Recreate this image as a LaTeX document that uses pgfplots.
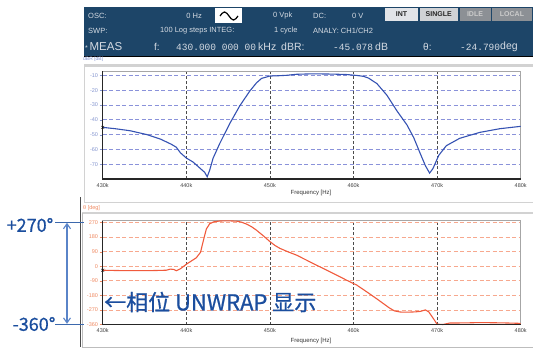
\documentclass[border=0pt]{standalone}
\usepackage{pgfplots}
\pgfplotsset{compat=1.18}
\usepackage{fontspec}
\setmainfont{Liberation Sans}
\newfontfamily\cjk[FakeBold=0.7]{Noto Sans CJK SC}
\newfontfamily\mono{Liberation Mono}
\usetikzlibrary{arrows.meta}
\definecolor{band}{HTML}{1D4568}
\definecolor{hdrtxt}{HTML}{D5DBE3}
\definecolor{bluecurve}{HTML}{3552B2}
\definecolor{redcurve}{HTML}{F05A3C}
\definecolor{bluegrid}{HTML}{8A92DA}
\definecolor{redgrid}{HTML}{F7A88E}
\definecolor{bluetick}{HTML}{8495CF}
\definecolor{redtick}{HTML}{EF8A62}
\definecolor{annot}{HTML}{1B4E9E}
\definecolor{annotline}{HTML}{5A84C8}
\definecolor{frame}{HTML}{D2D2D2}
\definecolor{btnlight}{HTML}{E2E4E8}
\definecolor{btndark}{HTML}{8C9095}

\pgfplotstableread{
f db
430 -45.1
431.5 -46.0
433.3 -47.4
435.3 -50.0
436.9 -53.0
438.2 -56.5
438.8 -58.5
439.3 -62.3
440.0 -65.8
440.8 -68.5
441.6 -72.5
442.2 -75.5
442.5 -78.5
442.8 -74
443.2 -66
444.0 -56
445.2 -42.5
446.4 -30.5
447.6 -20.5
448.4 -15
449.0 -12
450.0 -10.4
451.0 -10.2
452.0 -9.9
453.2 -9.2
455.2 -8.9
457.6 -9.1
459.2 -9.4
460.4 -10
461.2 -10.6
461.8 -11.8
462.8 -15.5
464.0 -23.4
465.2 -34
466.4 -43.5
467.2 -52
468.0 -63
468.6 -71
469.1 -76
469.5 -73
470.2 -64
471.1 -57.5
472.7 -52.5
475.1 -48.5
477.5 -46
480 -44.4
}\magtable

\pgfplotstableread{
f deg
430 -25
432 -27
434 -27
436 -27
437.6 -25
438.1 -18
438.5 -20
438.8 -28
439.3 -16
440.0 12
440.6 32
441.2 52
441.7 86
442.1 170
442.4 230
442.8 262
443.3 274
444 279
445 280
446 278
446.6 272
447.2 260
447.8 244
448.4 222
449.2 188
450 152
450.6 128
451.2 110
452.2 88
453.2 68
455.2 16
457.2 -35
459.2 -87
460.4 -117
461.6 -159
462.8 -202
463.6 -232
464.3 -258
464.9 -276
465.6 -283
466.4 -284
467.4 -282
468.0 -279
468.6 -270
469.0 -282
469.55 -323
470.0 -358
470.7 -360
471.5 -351
473.5 -350
475.1 -348
477.9 -350
480 -353
}\phasetable

\pgfplotsset{panel/.style={
  scale only axis, width=418pt, xmin=430, xmax=480,
  xtick={430,440,450,460,470,480},
  xticklabels={430k,440k,450k,460k,470k,480k},
  xtick pos=bottom, ytick pos=left,
  xtick style={draw=none},
  major tick length=3pt, tick align=outside,
  grid=major,
  x grid style={dash pattern=on 3pt off 2pt, color=black!70, line width=0.7pt},
  axis line style={draw=black!35, line width=0.8pt},
  xticklabel style={font=\fontsize{5.5}{6}\selectfont, color=black!75, inner sep=1pt},
  yticklabel style={font=\fontsize{5.5}{6}\selectfont, inner sep=1.5pt},
  /pgf/number format/assume math mode=true,
  clip=false,
}}

\newcommand\hdr[1]{{\fontsize{7.5}{8}\selectfont\color{hdrtxt}#1}}

\begin{document}
\begin{tikzpicture}[x=1pt,y=1pt]
\useasboundingbox (0,0) rectangle (559,357);
% ---------- header band ----------
\fill[band] (84,301) rectangle (533,350);
\draw[black, line width=1.5pt] (84,300.5) -- (533,300.5);
% row 1
\node[anchor=west, inner sep=0] at (88,341) {\hdr{OSC:}};
\node[anchor=east, inner sep=0] at (202,341) {\hdr{0 Hz}};
\fill[white] (215,334) rectangle (242,349);
\draw[black, line width=1.2pt] (220,341) sin (224.5,345) cos (229,341) sin (233.5,337) cos (238,341);
\node[anchor=west, inner sep=0] at (273,341) {\hdr{0 Vpk}};
\node[anchor=west, inner sep=0] at (313,341) {\hdr{DC:}};
\node[anchor=west, inner sep=0] at (352,341) {\hdr{0 V}};
\fill[btnlight] (385,336) rectangle (418,349);
\fill[btnlight!92!black] (419.5,336) rectangle (458,349);
\fill[btndark] (459.5,336) rectangle (490.5,349);
\fill[btndark] (492,336) rectangle (532,349);
\node[inner sep=0] at (401.5,342.5) {\fontsize{7}{8}\selectfont\bfseries\color{black!85}INT};
\node[inner sep=0] at (438.7,342.5) {\fontsize{7}{8}\selectfont\bfseries\color{black!85}SINGLE};
\node[inner sep=0] at (475,342.5) {\fontsize{7}{8}\selectfont\bfseries\color{black!20}IDLE};
\node[inner sep=0] at (512,342.5) {\fontsize{7}{8}\selectfont\bfseries\color{black!20}LOCAL};
% row 2
\node[anchor=west, inner sep=0] at (88,326) {\hdr{SWP:}};
\node[anchor=west, inner sep=0] at (160,326) {\hdr{100 Log steps INTEG:}};
\node[anchor=west, inner sep=0] at (274,326) {\hdr{1 cycle}};
\node[anchor=west, inner sep=0] at (313,326) {\hdr{ANALY: CH1/CH2}};
% row 3
\node[anchor=west, inner sep=0] at (85,310) {\color{hdrtxt}{\fontsize{7}{8}\selectfont *}\,{\fontsize{11.5}{12}\selectfont MEAS}};
\node[anchor=west, inner sep=0] at (154,310) {\color{hdrtxt}\fontsize{10}{12}\selectfont f:};
\node[anchor=west, inner sep=0] at (176,310) {\color{hdrtxt}\mono\fontsize{9.5}{12}\selectfont 430.000 000 00};
\node[anchor=west, inner sep=0] at (258,310) {\color{hdrtxt}\fontsize{10.5}{12}\selectfont kHz};
\node[anchor=west, inner sep=0] at (281,310) {\color{hdrtxt}\fontsize{10.5}{12}\selectfont dBR:};
\node[anchor=west, inner sep=0] at (333,310) {\color{hdrtxt}\mono\fontsize{9.5}{12}\selectfont -45.078};
\node[anchor=west, inner sep=0] at (375,310) {\color{hdrtxt}\fontsize{10.5}{12}\selectfont dB};
\node[anchor=west, inner sep=0] at (423,310) {\color{hdrtxt}\fontsize{10}{12}\selectfont θ:};
\node[anchor=west, inner sep=0] at (460,310) {\color{hdrtxt}\mono\fontsize{9.5}{12}\selectfont -24.790};
\node[anchor=west, inner sep=0] at (500,310) {\color{hdrtxt}\fontsize{10.5}{12}\selectfont deg};

% ---------- panel frames ----------
\draw[frame, line width=2.5pt] (84,291.5) -- (533,291.5);
\draw[frame, line width=1pt] (84,292) -- (84,155) -- (533,155);
\draw[frame, line width=1.5pt] (82,144) -- (533,144);
\draw[frame!90!black, line width=1pt] (82,144) -- (82,9.5) -- (533,9.5);
\draw[black!70, line width=0.9pt] (80,160) -- (80,10);
\node[anchor=west, inner sep=0] at (83,298) {\fontsize{5}{6}\selectfont\color{bluetick}dBR [dB]};
\node[anchor=west, inner sep=0] at (83,149) {\fontsize{5.5}{6}\selectfont\color{redtick}θ [deg]};
\node[inner sep=0] at (311,164) {\fontsize{6}{7}\selectfont\color{black!80}Frequency [Hz]};
\node[inner sep=0] at (311,16.5) {\fontsize{6}{7}\selectfont\color{black!80}Frequency [Hz]};

% ---------- top panel ----------
\begin{axis}[panel,
  at={(102.7pt,178pt)}, anchor=south west, height=108pt,
  ymin=-80, ymax=-7, ytick={-70,-60,...,-10},
  y grid style={dash pattern=on 4pt off 2.5pt, color=bluegrid, line width=0.8pt},
  ytick style={color=bluetick},
  yticklabel style={color=bluetick},
]
\addplot[bluecurve, line width=1.1pt] table[x=f, y=db] {\magtable};
\addplot[black, only marks, mark=x, mark size=2pt] coordinates {(430,-45.1)};
\draw[black!85, line width=1.1pt] (rel axis cs:0,1) -- (rel axis cs:0,0) -- (rel axis cs:1,0);
\end{axis}

% ---------- bottom panel ----------
\begin{axis}[panel,
  at={(102.7pt,32.5pt)}, anchor=south west, height=104pt,
  ymin=-360, ymax=282, ytick={-360,-270,...,270},
  y grid style={dash pattern=on 4pt off 2.5pt, color=redgrid, line width=0.8pt},
  ytick style={color=redtick},
  yticklabel style={color=redtick},
]
\addplot[redcurve, line width=1.1pt] table[x=f, y=deg] {\phasetable};
\addplot[black, only marks, mark=x, mark size=2pt] coordinates {(430,-25)};
\draw[black!85, line width=1.1pt] (rel axis cs:0,1) -- (rel axis cs:0,0) -- (rel axis cs:1,0);
\end{axis}

% ---------- annotations ----------
\draw[annot!85, line width=1pt] (55,134.7) -- (84,134.7);
\draw[annot!85, line width=1pt] (55,32.7) -- (84,32.7);
\draw[annotline, line width=1.1pt, {Straight Barb[length=5pt,width=7pt]}-{Straight Barb[length=5pt,width=7pt]}] (67,134.2) -- (67,33.2);
\node[inner sep=0] at (30,132) {\cjk\fontsize{18}{20}\selectfont\color{annot}+270°};
\node[inner sep=0] at (34,33) {\cjk\fontsize{18}{20}\selectfont\color{annot}-360°};
\node[anchor=west, inner sep=0] at (104,55) {\cjk\fontsize{22}{24}\selectfont\color{annot}←相位 UNWRAP 显示};
\end{tikzpicture}
\end{document}
